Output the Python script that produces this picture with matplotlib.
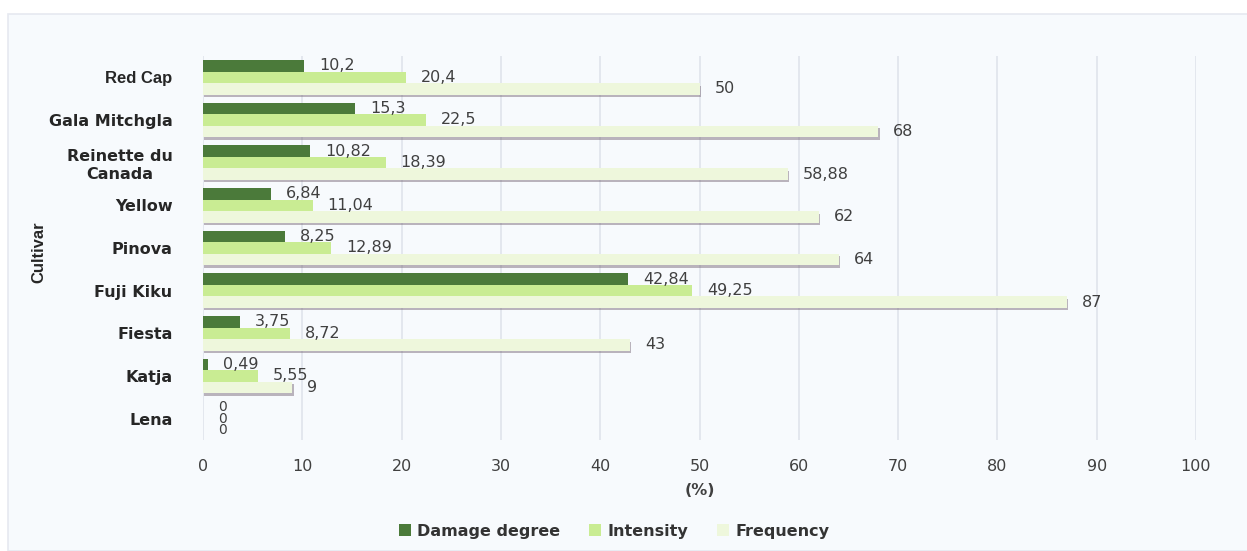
import numpy as np
import matplotlib
matplotlib.use("Agg")
import matplotlib.pyplot as plt
import matplotlib.patheffects as pe
from matplotlib.patches import Rectangle

# cultivars listed bottom -> top
cultivars = ["Lena", "Katja", "Fiesta", "Fuji Kiku", "Pinova", "Yellow",
             "Reinette du\nCanada", "Gala Mitchgla", "Red Cap"]
damage = [0, 0.49, 3.75, 42.84, 8.25, 6.84, 10.82, 15.3, 10.2]
intensity = [0, 5.55, 8.72, 49.25, 12.89, 11.04, 18.39, 22.5, 20.4]
frequency = [0, 9, 43, 87, 64, 62, 58.88, 68, 50]

series_names = ["Damage degree", "Intensity", "Frequency"]
colors = ["#4b7a3a", "#c9ec93", "#eef7dc"]


def fmt(v):
    s = ("%.2f" % v).rstrip("0").rstrip(".")
    return s.replace(".", ",")


def draw_chart():
    fig = plt.figure(figsize=(12.47, 5.51), dpi=100)
    fig.patch.set_facecolor("white")
    # light panel behind the chart
    fig.add_artist(Rectangle((8 / 1247, 0), 1, 1 - 14 / 551,
                             transform=fig.transFigure, facecolor="#f7fafd",
                             edgecolor="#e6e9f0", linewidth=1.2, zorder=-5))

    ax = fig.add_axes([203 / 1247, 1 - 440 / 551, 993 / 1247, 384 / 551])
    ax.set_facecolor("none")

    y = np.arange(len(cultivars))
    h = 0.27
    shadow = [pe.SimplePatchShadow(offset=(1.0, -1.8), shadow_rgbFace="#6e5e6e",
                                   alpha=0.45), pe.Normal()]

    values = [damage, intensity, frequency]
    offsets = [h, 0, -h]
    for vals, off, col, name in zip(values, offsets, colors, series_names):
        bars = ax.barh(y + off, vals, height=h, color=col, zorder=3)
        if name == "Frequency":
            for b in bars:
                b.set_path_effects(shadow)
        for yi, v in zip(y, vals):
            ax.text(v + 1.5, yi + off, fmt(v), va="center", ha="left",
                    fontsize=11.5 if v > 0 else 10, color="#404040", zorder=4)

    ax.set_xlim(0, 100)
    ax.set_ylim(-0.5, 8.5)
    ax.set_xticks(np.arange(0, 101, 10))
    ax.set_yticks(y)
    ax.set_yticklabels(cultivars, fontsize=11.5, fontweight="bold",
                       color="#262626", multialignment="center")
    for lbl in ax.get_yticklabels():
        if lbl.get_text() == "Red Cap":
            lbl.set_family("Liberation Sans")
            lbl.set_fontsize(12)
    ax.tick_params(axis="x", length=0, pad=14, labelsize=11.5, labelcolor="#404040")
    ax.tick_params(axis="y", length=0, pad=22)
    ax.grid(axis="x", color="#dfe4ec", linewidth=1.2, zorder=0)
    for s in ax.spines.values():
        s.set_visible(False)

    ax.set_xlabel("(%)", fontsize=11.5, fontweight="bold", color="#404040", labelpad=6)
    ax.set_ylabel("Cultivar", fontsize=12, fontweight="bold", color="#262626",
                  family="Liberation Sans")
    ax.yaxis.set_label_coords(-0.158, 0.49)

    # plain swatches for the legend (no shadow)
    handles = [Rectangle((0, 0), 1, 1, facecolor=c, edgecolor="none") for c in colors]
    leg = ax.legend(handles, series_names, loc="center",
                    bbox_to_anchor=(0.414, -0.237), ncol=3,
                    frameon=False, handlelength=0.75, handleheight=0.75,
                    columnspacing=1.8, handletextpad=0.4,
                    prop={"weight": "bold", "size": 11.5})
    for t in leg.get_texts():
        t.set_color("#333333")

    fig.savefig("out.png", dpi=100, facecolor=fig.get_facecolor())


if __name__ == "__main__":
    draw_chart()
